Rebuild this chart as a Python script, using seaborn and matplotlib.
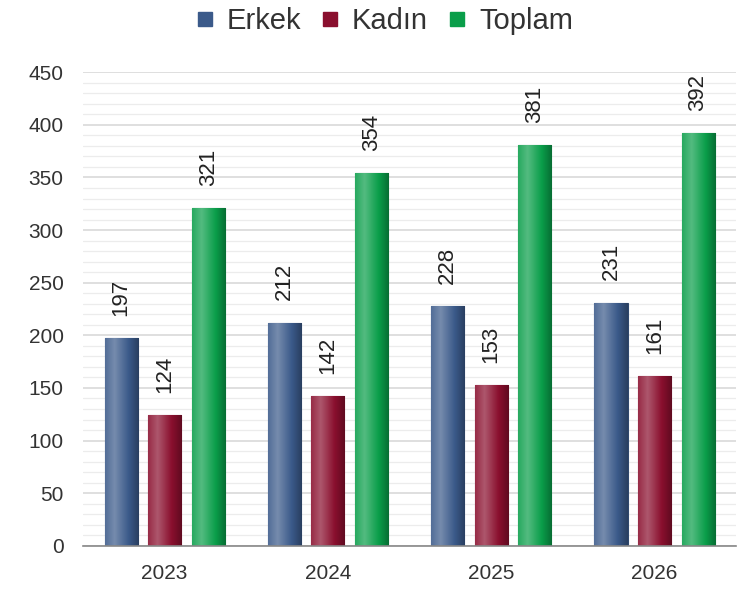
import numpy as np
import pandas as pd
import matplotlib
matplotlib.use("Agg")
import matplotlib.pyplot as plt
import seaborn as sns
from matplotlib.colors import LinearSegmentedColormap, to_rgb
from matplotlib.lines import Line2D

# Data
years = ["2023", "2024", "2025", "2026"]
erkek = [197, 212, 228, 231]
kadin = [124, 142, 153, 161]
toplam = [321, 354, 381, 392]
series = ["Erkek", "Kadın", "Toplam"]
colors = ["#3b5a8a", "#8a0f2e", "#0a9e4a"]

df = pd.DataFrame({
    "Yıl": years * 3,
    "Değer": erkek + kadin + toplam,
    "Seri": [s for s in series for _ in years],
})

sns.set_style("white")
plt.rcParams["font.family"] = ["Liberation Sans", "DejaVu Sans"]

fig = plt.figure(figsize=(7.38, 5.92), dpi=100)
ax = fig.add_axes([0.1125, 0.078, 0.885, 0.80])

sns.barplot(data=df, x="Yıl", y="Değer", hue="Seri", palette=colors,
            width=0.80, gap=0.24, ax=ax, legend=False, saturation=1)

# gradient fill on each bar
def shade(c, f):
    r = np.array(to_rgb(c))
    return tuple(r + (1 - r) * f) if f > 0 else tuple(r * (1 + f))

for i, cont in enumerate(ax.containers):
    base = colors[i]
    cmap = LinearSegmentedColormap.from_list(
        "g", [(0, shade(base, 0.12)), (0.28, shade(base, 0.3)),
              (0.7, shade(base, 0.0)), (1, shade(base, -0.3))])
    grad = np.linspace(0, 1, 64).reshape(1, -1)
    for bar in cont:
        x0, y0 = bar.get_x(), bar.get_y()
        w, h = bar.get_width(), bar.get_height()
        bar.set_edgecolor(shade(base, -0.2))
        bar.set_linewidth(0.8)
        im = ax.imshow(grad, cmap=cmap, aspect="auto", extent=[x0, x0 + w, y0, y0 + h],
                       zorder=bar.get_zorder() + 0.1, interpolation="bilinear")
        im.set_clip_path(bar)
        ax.annotate(f"{int(h)}", (x0 + w / 2, h), xytext=(0, 16), textcoords="offset points",
                    rotation=90, ha="center", va="bottom", fontsize=16, color="#222222")

ax.set_xlim(-0.5, 3.5)
ax.set_ylim(0, 450)

# grid
ax.set_yticks(np.arange(0, 451, 50))
ax.set_yticks(np.arange(0, 451, 10), minor=True)
ax.grid(axis="y", which="major", color="#d9d9d9", linewidth=1.2)
ax.grid(axis="y", which="minor", color="#ececec", linewidth=0.9)
ax.set_axisbelow(True)
ax.set_xticks([-0.5, 0.5, 1.5, 2.5, 3.5], minor=True)
ax.tick_params(axis="x", which="major", length=0, labelsize=15, colors="#333333", pad=13)
ax.tick_params(axis="x", which="minor", length=6, color="#888888", width=1, direction="out")
ax.tick_params(axis="y", which="both", length=0, labelsize=15, colors="#333333", pad=14)

for s in ["top", "right", "left"]:
    ax.spines[s].set_visible(False)
ax.spines["bottom"].set_color("#888888")
ax.spines["bottom"].set_linewidth(1.2)
ax.set_xlabel("")
ax.set_ylabel("")

handles = [Line2D([0], [0], marker="s", linestyle="", markersize=10,
                  markerfacecolor=c, markeredgecolor=c) for c in colors]
fig.legend(handles, series, loc="upper center", bbox_to_anchor=(0.515, 1.032), ncol=3,
           frameon=False, fontsize=21, handletextpad=0.15, columnspacing=0.4,
           handlelength=1.2, labelcolor="#333333")

fig.savefig("out.png", dpi=100)
